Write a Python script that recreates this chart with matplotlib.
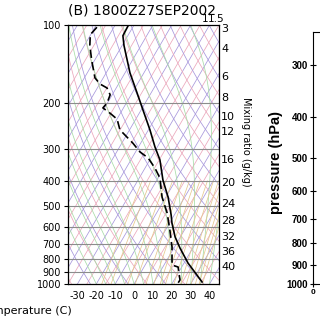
import numpy as np
import matplotlib
matplotlib.use('Agg')
import matplotlib.pyplot as plt
from matplotlib.ticker import NullLocator

# ── Sounding data ────────────────────────────────────────────────────────────
p_temp = [101, 110, 120, 153, 183, 213, 254, 296, 332, 397, 462, 541, 581,
          658, 725, 830, 982]
temp   = [-82.9, -82.6, -79.0, -67.4, -57.4, -49.0, -39.2, -31.2, -24.6,
          -16.8, -8.8, -1.7, 1.2, 7.2, 13.1, 22.1, 35.4]

p_dew  = [102, 109, 120, 137, 160, 169, 175, 186, 200, 209, 219, 231, 254,
          271, 286, 309, 326, 357, 390, 462, 532, 619, 720, 808, 845, 860,
          965, 991]
dewpt  = [-99.0, -100.2, -97.1, -91.5, -84.4, -79.8, -74.9, -71.1, -70.2,
          -70.9, -65.5, -59.9, -55.1, -49.1, -44.1, -37.7, -31.5, -24.7,
          -19.0, -12.0, -4.4, 2.3, 8.7, 12.7, 14.3, 18.1, 23.1, 23.0]

p_levels   = [100, 200, 300, 400, 500, 600, 700, 800, 900, 1000]
t_ticks    = [-30, -20, -10, 0, 10, 20, 30, 40]
mix_labels = ['3', '4', '6', '8', '10', '12', '16', '20', '24', '28', '32', '36', '40']
mix_label_p = [104, 124, 159, 192, 226, 259, 332, 407, 491, 571, 660, 755, 860]
mix_lines  = [1, 1.5, 3, 4, 6, 8, 10, 12, 16, 20, 24, 28, 32, 36, 40]

p2_ticks = [300, 400, 500, 600, 700, 800, 900, 1000]

SKEW = 80.0   # deg C of shift per decade of pressure


def skew(t, p):
    return np.asarray(t) + SKEW * np.log10(1000.0 / np.asarray(p))


def moist_adiabat(t0, ps):
    T = t0 + 273.15
    out = [T]
    for i in range(1, len(ps)):
        p = ps[i - 1]
        es = 6.112 * np.exp(17.67 * (T - 273.15) / (T - 273.15 + 243.5))
        rs = 0.622 * es / (p - es)
        num = 287.0 * T + 2.5e6 * rs
        den = p * (1004.0 + 2.5e6 ** 2 * rs * 0.622 / (287.0 * T ** 2))
        T = T + num / den * (ps[i] - p)
        out.append(T)
    return np.array(out) - 273.15


fig = plt.figure(figsize=(3.2, 3.2), dpi=100)
ax = fig.add_axes([68 / 320, 36 / 320, 151 / 320, 259 / 320])
ax.set_yscale('log')
ax.set_ylim(1000, 100)
ax.set_xlim(-35, 45)

ps = np.logspace(3, 2, 120)

# ── background lattice ───────────────────────────────────────────────────────
for i, t in enumerate(range(-130, 50, 5)):
    c = '#a898dc' if t % 10 == 0 else '#eba8bc'
    ax.plot(skew([t, t], [1000, 100]), [1000, 100], color=c, lw=0.55, zorder=1)

for i, th in enumerate(range(240, 520, 10)):
    tt = th * (ps / 1000.0) ** 0.286 - 273.15
    c = '#eba8bc' if i % 2 == 0 else '#a898dc'
    ax.plot(skew(tt, ps), ps, color=c, lw=0.55, zorder=1)

for t0 in range(-20, 45, 5):
    tt = moist_adiabat(t0, ps)
    ax.plot(skew(tt, ps), ps, color='#a8dca8', lw=0.55, zorder=1)

pm = np.logspace(3, np.log10(400), 40)
for w in mix_lines:
    e = pm * w / (622.0 + w)
    lt = np.log(e / 6.112)
    td = 243.5 * lt / (17.67 - lt)
    ax.plot(skew(td, pm), pm, color='#e6c890', lw=0.55, zorder=1)

for p in p_levels[1:-1]:
    ax.axhline(p, color='#8c8c8c', lw=0.8, zorder=2)

# ── sounding ─────────────────────────────────────────────────────────────────
ax.plot(skew(temp, p_temp), p_temp, color='black', lw=1.2, zorder=4)
ax.plot(skew(dewpt, p_dew), p_dew, color='black', lw=1.2,
        linestyle=(0, (5, 2.5)), zorder=4)

ax.set_yticks(p_levels)
ax.set_yticklabels([str(p) for p in p_levels], fontsize=7)
ax.yaxis.set_minor_locator(NullLocator())
ax.set_xticks(t_ticks)
ax.set_xticklabels([str(t) for t in t_ticks], fontsize=7)
ax.tick_params(axis='y', length=3, pad=2)
ax.tick_params(axis='x', length=0, pad=5)
for s in ax.spines.values():
    s.set_linewidth(0.9)

for lab, p in zip(mix_labels, mix_label_p):
    ax.text(1.015, p, lab, transform=ax.get_yaxis_transform(), fontsize=8,
            va='center', ha='left', clip_on=False)
fig.text(205 / 320, 1 - 19 / 320, '1', fontsize=7.5, ha='center', va='center')
fig.text(216 / 320, 1 - 19 / 320, '1.5', fontsize=7.5, ha='center', va='center')

fig.text(68 / 320, 1 - 11 / 320, '(B) 1800Z27SEP2002', fontsize=10,
         ha='left', va='center')
fig.text(246 / 320, 1 - 142 / 320, 'Mixing ratio (g/kg)', fontsize=7,
         rotation=270, ha='center', va='center')
fig.text(72 / 320, 1 - 311 / 320, 'Temperature (C)', fontsize=8,
         ha='right', va='center')

# ── neighbouring panel (cut off at the right edge) ───────────────────────────
ax2 = fig.add_axes([313 / 320, 36 / 320, 0.5, 252 / 320])
ax2.set_yscale('log')
ax2.set_ylim(1000, 250)
ax2.set_xlim(0, 10)
ax2.set_yticks(p2_ticks)
ax2.set_yticklabels([str(p) for p in p2_ticks], fontsize=7,
                    fontweight='bold', family='Liberation Sans')
ax2.yaxis.set_minor_locator(NullLocator())
ax2.set_xticks([0])
ax2.set_xticklabels(['0'], fontsize=6, fontweight='bold', family='Liberation Sans')
ax2.tick_params(direction='inout', length=5, pad=1)
fig.text(276 / 320, 1 - 163 / 320, 'pressure (hPa)', fontsize=10.5,
         fontweight='bold', family='Liberation Sans', rotation=90,
         ha='center', va='center')

fig.savefig('out.png', dpi=100)
